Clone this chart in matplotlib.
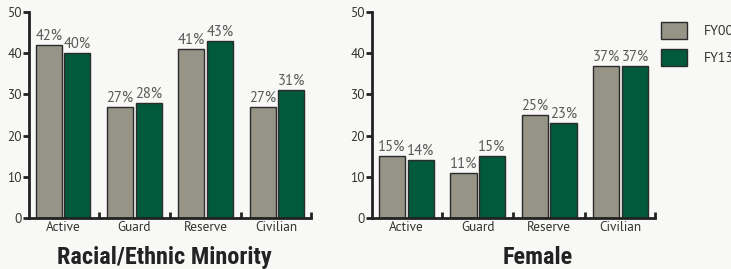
import matplotlib.pyplot as plt
import numpy as np

categories = ['Active', 'Guard', 'Reserve', 'Civilian']
minority_fy00 = [42, 27, 41, 27]
minority_fy13 = [40, 28, 43, 31]
female_fy00 = [15, 11, 25, 37]
female_fy13 = [14, 15, 23, 37]
series_names = ['FY00', 'FY13']
panel_titles = ['Racial/Ethnic Minority', 'Female']

gray = '#969487'
green = '#005a3b'
bg = '#f8f8f6'
label_font = ['PT Sans', 'DejaVu Sans']
title_font = ['Roboto Condensed', 'DejaVu Sans']

plt.rcParams['font.family'] = label_font

fig = plt.figure(figsize=(7.31, 2.69), dpi=100, facecolor=bg)
ax1 = fig.add_axes([0.0397, 0.1896, 0.3857, 0.7658])
ax2 = fig.add_axes([0.5089, 0.1896, 0.3871, 0.7658])

ind = np.arange(len(categories))
width = 0.365
offset = 0.2

panels = [(ax1, minority_fy00, minority_fy13), (ax2, female_fy00, female_fy13)]
title_x = [0.225, 0.736]
for (ax, v00, v13), title, tx in zip(panels, panel_titles, title_x):
    ax.set_facecolor(bg)
    b1 = ax.bar(ind - offset, v00, width, color=gray, edgecolor='#2b2b2b', linewidth=1, label=series_names[0])
    b2 = ax.bar(ind + offset, v13, width, color=green, edgecolor='#2b2b2b', linewidth=1, label=series_names[1])
    for bars, vals in ((b1, v00), (b2, v13)):
        for rect, v in zip(bars, vals):
            ax.text(rect.get_x() + rect.get_width() / 2, v + 0.5, f'{v}%',
                    ha='center', va='bottom', fontsize=10.5, color='#5a5a5a')
    ax.set_xlim(-0.48, 3.48)
    ax.set_ylim(0, 50)
    ax.set_yticks([0, 10, 20, 30, 40, 50])
    ax.set_xticks(ind)
    ax.set_xticklabels(categories)
    ax.set_xticks([0.5, 1.5, 2.5, 3.48], minor=True)
    ax.tick_params(axis='y', direction='out', length=4, width=2, color='#222222',
                   labelsize=9.5, labelcolor='#333333', pad=1)
    ax.tick_params(axis='x', which='major', length=0, labelsize=9.5,
                   labelcolor='#333333', pad=2)
    ax.tick_params(axis='x', which='minor', direction='in', length=4, width=2, color='#222222')
    for s in ('top', 'right'):
        ax.spines[s].set_visible(False)
    for s in ('left', 'bottom'):
        ax.spines[s].set_linewidth(2)
        ax.spines[s].set_color('#222222')
    fig.text(tx, 0.0186, title, ha='center', va='baseline', fontsize=17.5,
             fontweight='bold', color='#222222', family=title_font)

fig.legend(handles=[b1, b2], loc='upper left', bbox_to_anchor=(0.9043, 0.918),
           frameon=False, fontsize=10, handlelength=1.87, handleheight=1.5,
           labelspacing=0.72, handletextpad=1.2, borderpad=0, borderaxespad=0,
           labelcolor='#333333')

fig.savefig('out.png', dpi=100, facecolor=bg)
